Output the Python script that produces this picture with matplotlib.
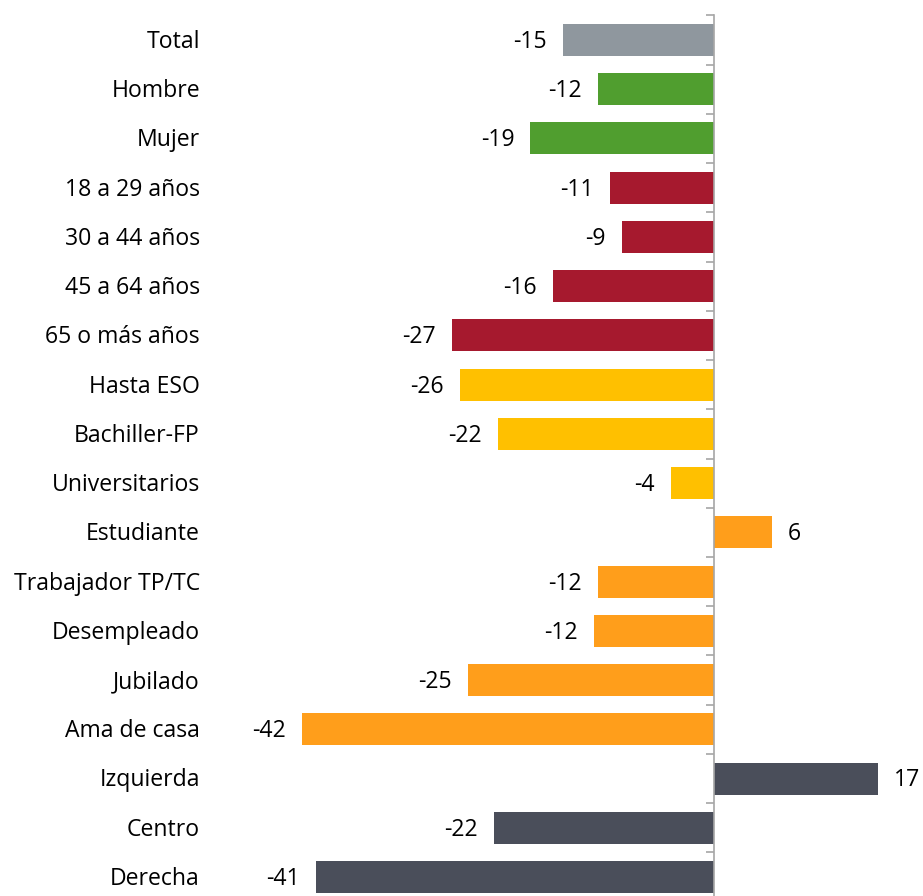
import numpy as np
import matplotlib.pyplot as plt
from matplotlib import transforms

categories = ['Total', 'Hombre', 'Mujer', '18 a 29 años', '30 a 44 años',
              '45 a 64 años', '65 o más años', 'Hasta ESO', 'Bachiller-FP',
              'Universitarios', 'Estudiante', 'Trabajador TP/TC', 'Desempleado',
              'Jubilado', 'Ama de casa', 'Izquierda', 'Centro', 'Derecha']
values = [-15.4, -11.8, -18.7, -10.6, -9.4, -16.4, -26.7, -25.9, -22.0,
          -4.4, 5.9, -11.8, -12.2, -25.1, -42.0, 16.8, -22.4, -40.6]
groups = ['total', 'sexo', 'sexo', 'edad', 'edad', 'edad', 'edad', 'estudios',
          'estudios', 'estudios', 'ocup', 'ocup', 'ocup', 'ocup', 'ocup',
          'ideo', 'ideo', 'ideo']
palette = {'total': '#8F979E', 'sexo': '#509E2F', 'edad': '#A6192E',
           'estudios': '#FFC000', 'ocup': '#FF9E1B', 'ideo': '#4A4E5A'}

plt.rcParams['font.family'] = ['Open Sans', 'DejaVu Sans']

W, H = 923, 896
fig = plt.figure(figsize=(W / 100, H / 100), dpi=100)

# axes placed in pixels: zero line at x=713.7, 9.8 px per unit
x0, ppu = 713.7, 9.8
xmin, xmax = -44, 21
left = x0 + xmin * ppu
right = x0 + xmax * ppu
top, bottom = 15.4, 901.6
ax = fig.add_axes([left / W, 1 - bottom / H, (right - left) / W, (bottom - top) / H])

y = np.arange(len(categories))
colors = [palette[g] for g in groups]
ax.barh(y, values, height=0.65, color=colors, zorder=2)
ax.set_xlim(xmin, xmax)
ax.set_ylim(len(categories) - 0.5, -0.5)

for s in ['top', 'right', 'bottom']:
    ax.spines[s].set_visible(False)
ax.spines['left'].set_position(('data', 0))
ax.spines['left'].set_color('#A6A6A6')
ax.spines['left'].set_linewidth(1.2)
ax.set_xticks([])
ax.set_yticks(np.arange(len(categories) + 1) - 0.5)
ax.set_yticklabels([])
ax.tick_params(axis='y', length=6, width=1.2, color='#A6A6A6', direction='out')

fs = 16.6
dy = -1.4  # nudge text down a touch
tr = transforms.blended_transform_factory(fig.transFigure, ax.transData)
for yi, name in zip(y, categories):
    ax.annotate(name, (200 / W, yi), xycoords=tr, xytext=(0, dy),
                textcoords='offset points', ha='right', va='center',
                fontsize=fs, color='black')

for yi, v in zip(y, values):
    lab = f'{round(v):d}'
    if v < 0:
        ax.annotate(lab, (v, yi), xytext=(-11.5, dy), textcoords='offset points',
                    ha='right', va='center', fontsize=fs)
    else:
        ax.annotate(lab, (v, yi), xytext=(11.5, dy), textcoords='offset points',
                    ha='left', va='center', fontsize=fs)

fig.savefig('out.png', dpi=100)
